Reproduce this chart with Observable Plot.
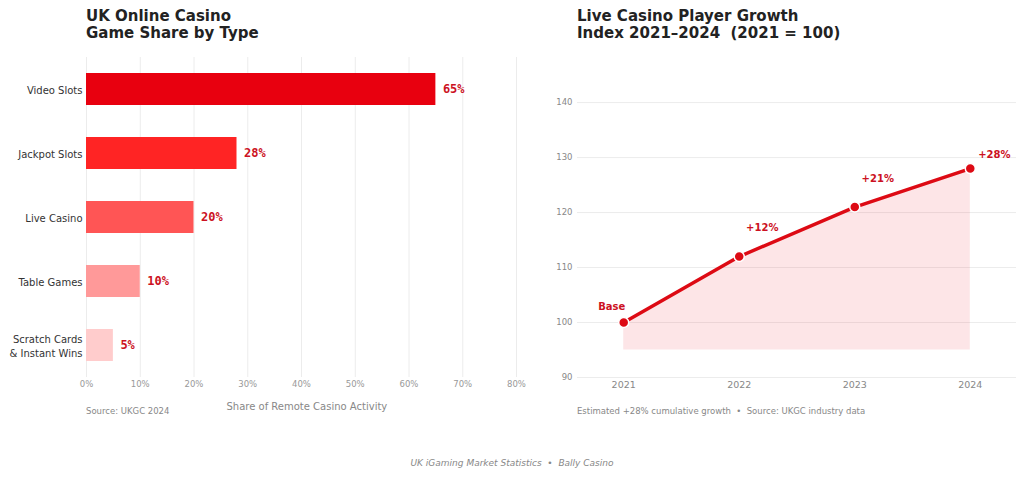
<!DOCTYPE html>
<html>
<head>
<meta charset="utf-8">
<script src="https://cdn.jsdelivr.net/npm/d3@7"></script>
<script src="https://cdn.jsdelivr.net/npm/@observablehq/plot@0.6"></script>
<style>
  html, body { margin: 0; padding: 0; background: #fff; }
  #page { position: relative; width: 1024px; height: 477px; overflow: hidden; font-family: "DejaVu Sans", sans-serif; }
  .title { position: absolute; top: 8px; font-size: 15px; font-weight: bold; line-height: 17px; color: #222; white-space: pre; }
  .note { position: absolute; font-size: 8.5px; color: #888; white-space: pre; }
  .panel { position: absolute; top: 0; }
  #footer { position: absolute; left: 0; width: 1024px; top: 458px; text-align: center; font-size: 9px; font-style: italic; color: #888; white-space: pre; }
</style>
</head>
<body>
<div id="page">
  <div class="title" style="left:86px">UK Online Casino
Game Share by Type</div>
  <div class="title" style="left:577px">Live Casino Player Growth
Index 2021–2024  (2021 = 100)</div>
  <div class="panel" id="left" style="left:0"></div>
  <div class="panel" id="right" style="left:520px"></div>
  <div class="note" style="left:86px; top:406px">Source: UKGC 2024</div>
  <div class="note" style="left:577px; top:406px">Estimated +28% cumulative growth  •  Source: UKGC industry data</div>
  <div id="footer">UK iGaming Market Statistics  •  Bally Casino</div>
</div>
<script>
// Game share by type (percent of remote casino activity)
const gameTypes = ["Video Slots", "Jackpot Slots", "Live Casino", "Table Games", "Scratch Cards\n& Instant Wins"];
const gameShares = [65, 28, 20, 10, 5];
const barColors = ["#E8000F", "#FF2424", "#FF5555", "#FF9999", "#FFCCCC"];
const shareTicks = [0, 10, 20, 30, 40, 50, 60, 70, 80];

// Live casino player index, 2021 = 100
const years = [2021, 2022, 2023, 2024];
const playerIndex = [100, 112, 121, 128];
const indexTicks = [90, 100, 110, 120, 130, 140];

const labelRed = "#CC1122";
const lineRed = "#DD0A14";
const gridGrey = "#ECECEC";

const shareRows = gameTypes.map((type, i) => ({type, share: gameShares[i], color: barColors[i]}));

const left = Plot.plot({
  width: 540,
  height: 430,
  marginLeft: 86,
  marginRight: 13.25,
  marginTop: 57,
  marginBottom: 53,
  style: {fontFamily: "DejaVu Sans", background: "transparent", overflow: "visible"},
  x: {domain: [0, 82]},
  y: {domain: gameTypes, paddingInner: 0.5, paddingOuter: 0.25},
  marks: [
    Plot.gridX(shareTicks, {stroke: gridGrey, strokeOpacity: 1, strokeWidth: 1}),
    Plot.barX(shareRows, {x: "share", y: "type", fill: "color"}),
    Plot.text(shareRows, {
      x: "share", y: "type", text: d => d.share + "%",
      dx: 7, textAnchor: "start",
      fontFamily: "DejaVu Sans Mono", fontWeight: "bold", fontSize: 12, fill: labelRed
    }),
    Plot.axisY({tickSize: 0, tickPadding: 4, fontSize: 10, lineHeight: 1.35, color: "#333", label: null}),
    Plot.axisX({
      ticks: shareTicks, tickFormat: d => d + "%", tickSize: 0, tickPadding: 3,
      fontSize: 8.5, color: "#999",
      label: "Share of Remote Casino Activity", labelAnchor: "center", labelArrow: "none", labelOffset: 32
    })
  ]
});
// axis title in the same grey but a touch larger than tick labels
left.querySelectorAll("text").forEach(t => {
  if (t.textContent === "Share of Remote Casino Activity") { t.setAttribute("font-size", 10); t.setAttribute("fill", "#888"); }
});
document.getElementById("left").append(left);

const indexRows = years.map((year, i) => ({
  year, value: playerIndex[i],
  label: i === 0 ? "Base" : "+" + (playerIndex[i] - playerIndex[0]) + "%"
}));
// label offsets in pixels from each point
const labelOffsets = [[-12, -16], [23, -29], [23, -28], [24, -14]];

const right = Plot.plot({
  width: 504,
  height: 430,
  marginLeft: 57,
  marginRight: 8,
  marginTop: 57,
  marginBottom: 53,
  style: {fontFamily: "DejaVu Sans", background: "transparent", overflow: "visible"},
  x: {domain: [2020.6, 2024.4]},
  y: {domain: [90, 148.2]},
  marks: [
    Plot.gridY(indexTicks, {stroke: gridGrey, strokeOpacity: 1, strokeWidth: 1}),
    Plot.areaY(indexRows, {x: "year", y1: 95, y2: "value", fill: "#E8000F", fillOpacity: 0.1}),
    Plot.lineY(indexRows, {x: "year", y: "value", stroke: lineRed, strokeWidth: 3.5}),
    Plot.dot(indexRows, {x: "year", y: "value", r: 5, fill: lineRed, stroke: "#fff", strokeWidth: 1.5}),
    ...indexRows.map((d, i) => Plot.text([d], {
      x: "year", y: "value", text: "label",
      dx: labelOffsets[i][0], dy: labelOffsets[i][1],
      fontWeight: "bold", fontSize: 10, fill: labelRed
    })),
    Plot.axisY({ticks: indexTicks, tickSize: 0, tickPadding: 5, fontSize: 8.5, color: "#888", label: null}),
    Plot.axisX({ticks: years, tickFormat: d => String(d), tickSize: 0, tickPadding: 4, fontSize: 9.5, color: "#888", label: null})
  ]
});
document.getElementById("right").append(right);
</script>
</body>
</html>
